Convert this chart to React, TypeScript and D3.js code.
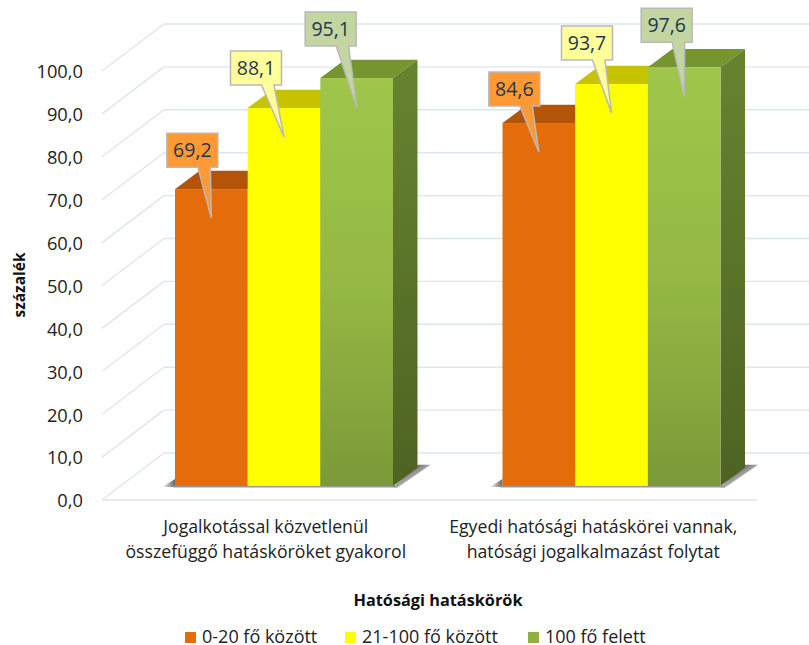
import React from "react";
import * as d3 from "d3";

const categories = [
  ["Jogalkotással közvetlenül", "összefüggő hatásköröket gyakorol"],
  ["Egyedi hatósági hatáskörei vannak,", "hatósági jogalkalmazást folytat"],
];
const seriesNames = ["0-20 fő között", "21-100 fő között", "100 fő felett"];
const values = [
  [69.2, 88.1, 95.1],
  [84.6, 93.7, 97.6],
];
const yTicks = d3.range(0, 101, 10);

// box offset from the bar centre, and tip-to-box gap, for each callout
const calloutDx = [
  [-19, -28, -26],
  [-24.5, -24.5, -17.5],
];
const calloutGap = [
  [51, 52, 61],
  [46, 53, 54],
];

const fontFamily = "'Open Sans', 'Noto Sans', sans-serif";
const front = ["#e46c0a", "#ffff00", "url(#greenFront)"];
const tops = ["#b35408", "#c7c300", "#76952f"];
const sides = ["#a84f07", "#b8b500", "url(#greenSide)"];
const calloutFill = ["#ff9933", "#ffff99", "#c3d5a0"];
const legendSwatch = ["#e46c0a", "#ffff00", "#8fb040"];

const width = 809;
const height = 645;
const wallDx = 62;
const wallDy = 47;
const barDx = 24.5;
const barDy = 18.3;
const floorY = 500;
const barBaseY = 486;

const x = d3.scaleBand<number>().domain([0, 1]).range([102, 757]);
const xInner = d3.scaleBand<number>().domain([0, 1, 2]).range([73, 73 + 218]);
const h = d3.scaleLinear().domain([0, 100]).range([0, 429]);

export default function App() {
  const grid = "#dce6f2";
  return (
    <svg
      width={width}
      height={height}
      style={{ position: "absolute", left: 0, top: 0, background: "#fff" }}
      fontFamily={fontFamily}
    >
      <defs>
        <linearGradient id="greenFront" x1="0" y1="0" x2="0" y2="1">
          <stop offset="0" stopColor="#9fc64a" />
          <stop offset="0.5" stopColor="#95b944" />
          <stop offset="1" stopColor="#7a9a38" />
        </linearGradient>
        <linearGradient id="greenSide" x1="0" y1="0" x2="0" y2="1">
          <stop offset="0" stopColor="#668430" />
          <stop offset="1" stopColor="#4e6322" />
        </linearGradient>
        <linearGradient id="shadowRight" x1="0.3" y1="0.3" x2="0.8" y2="0.8">
          <stop offset="0" stopColor="#666" />
          <stop offset="1" stopColor="#666" stopOpacity="0" />
        </linearGradient>
        <linearGradient id="shadowLeft" x1="1" y1="0" x2="0" y2="0">
          <stop offset="0" stopColor="#666" />
          <stop offset="1" stopColor="#666" stopOpacity="0" />
        </linearGradient>
        <filter id="soft" x="-20%" y="-50%" width="140%" height="200%">
          <feGaussianBlur stdDeviation="0.7" />
        </filter>
      </defs>

      {/* walls */}
      {yTicks.map((t) => (
        <g key={t} stroke={grid} strokeWidth={1.4} fill="none">
          <line
            x1={102}
            y1={floorY - h(t)}
            x2={102 + wallDx}
            y2={floorY - h(t) - wallDy}
          />
          <line
            x1={102 + wallDx}
            y1={floorY - h(t) - wallDy}
            x2={width}
            y2={floorY - h(t) - wallDy}
          />
        </g>
      ))}
      <line x1={102} y1={floorY} x2={757} y2={floorY} stroke={grid} strokeWidth={1.4} />

      {yTicks.map((t) => (
        <text
          key={t}
          x={83}
          y={floorY - h(t) + 2.5}
          textAnchor="end"
          dominantBaseline="middle"
          fontSize={18.3}
          fill="#222"
        >
          {t.toFixed(1).replace(".", ",")}
        </text>
      ))}

      {/* bars */}
      {values.map((group, g) => {
        const left = x(g)! + xInner(0)!;
        const right = x(g)! + xInner(2)! + xInner.bandwidth();
        return (
          <g key={g}>
            <g filter="url(#soft)">
              <polygon
                points={`${left - 13},${barBaseY + 1} ${left},${barBaseY - 7} ${left},${barBaseY + 1}`}
                fill="url(#shadowLeft)"
              />
              <rect
                x={left - 2}
                y={barBaseY - 0.5}
                width={right - left + 4}
                height={2}
                fill="#999"
              />
              <polygon
                points={`${right},${barBaseY + 1} ${right + barDx},${barBaseY - barDy - 3} ${right + barDx + 13},${barBaseY - barDy - 3} ${right + 4},${barBaseY + 2}`}
                fill="url(#shadowRight)"
              />
            </g>
            {group.map((v, s) => {
              const x0 = x(g)! + xInner(s)!;
              const x1 = x0 + xInner.bandwidth();
              const y = barBaseY - h(v);
              return (
                <g key={s}>
                  <polygon
                    points={`${x0},${y} ${x0 + barDx},${y - barDy} ${x1 + barDx},${y - barDy} ${x1},${y}`}
                    fill={tops[s]}
                  />
                  <polygon
                    points={`${x1},${y} ${x1 + barDx},${y - barDy} ${x1 + barDx},${barBaseY - barDy} ${x1},${barBaseY}`}
                    fill={sides[s]}
                  />
                  <rect x={x0} y={y} width={x1 - x0} height={h(v)} fill={front[s]} />
                </g>
              );
            })}
          </g>
        );
      })}

      {/* callouts go over every bar */}
      {values.map((group, g) =>
        group.map((v, s) => {
          const cx = x(g)! + xInner(s)! + xInner.bandwidth() / 2;
          const tipY = barBaseY - h(v) + 29;
          const boxCx = cx + calloutDx[g][s];
          const boxBottom = tipY - calloutGap[g][s];
          const boxW = 51;
          const boxH = 34;
          const l = boxCx - boxW / 2;
          const r = boxCx + boxW / 2;
          const t = boxBottom - boxH;
          return (
            <g key={`${g}-${s}`}>
              <path
                d={`M${l},${t} H${r} V${boxBottom} H${boxCx + 18} L${cx},${tipY} L${boxCx + 5.5},${boxBottom} H${l} Z`}
                fill={calloutFill[s]}
                stroke="#b9b9b9"
                strokeWidth={1.5}
              />
              <text
                x={boxCx}
                y={t + boxH / 2 + 1.5}
                textAnchor="middle"
                dominantBaseline="middle"
                fontSize={19.5}
                fill="#1f3850"
              >
                {v.toFixed(1).replace(".", ",")}
              </text>
            </g>
          );
        })
      )}

      {/* category labels */}
      {categories.map((lines, g) =>
        lines.map((line, i) => (
          <text
            key={line}
            x={x(g)! + x.bandwidth() / 2}
            y={528 + i * 25}
            textAnchor="middle"
            dominantBaseline="middle"
            fontSize={17.7}
            fill="#222"
          >
            {line}
          </text>
        ))
      )}

      <text
        transform="translate(21,285) rotate(-90)"
        textAnchor="middle"
        dominantBaseline="middle"
        fontSize={15.5}
        fontWeight="bold"
        fill="#111"
      >
        százalék
      </text>
      <text
        x={438}
        y={602}
        textAnchor="middle"
        dominantBaseline="middle"
        fontSize={16.3}
        fontWeight="bold"
        fill="#111"
      >
        Hatósági hatáskörök
      </text>

      {/* legend */}
      {seriesNames.map((name, s) => {
        const lx = [185, 345, 528][s];
        return (
          <g key={name}>
            <rect x={lx} y={632} width={11} height={11} fill={legendSwatch[s]} />
            <text
              x={lx + 17}
              y={638}
              dominantBaseline="middle"
              fontSize={18}
              fill="#222"
            >
              {name}
            </text>
          </g>
        );
      })}
    </svg>
  );
}
